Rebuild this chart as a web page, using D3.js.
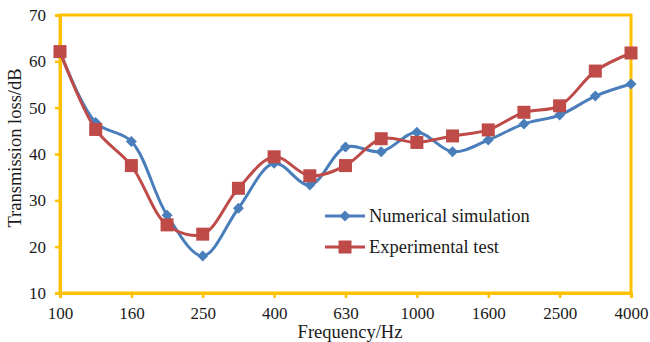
<!DOCTYPE html>
<html>
<head>
<meta charset="utf-8">
<script src="https://cdn.jsdelivr.net/npm/d3@7"></script>
<style>
  html, body { margin: 0; padding: 0; background: #fff; }
  svg { display: block; }
  text { font-family: "Liberation Serif", "Times New Roman", serif; fill: #1a1a1a; }
</style>
</head>
<body>
<svg id="chart" width="650" height="342"></svg>
<script>
// Third-octave band centre frequencies (Hz)
const frequencies = ["100", "125", "160", "200", "250", "315", "400", "500", "630",
                     "800", "1000", "1250", "1600", "2000", "2500", "3150", "4000"];
// Transmission loss (dB)
const numericalSimulation = [62.1, 46.8, 42.7, 26.8, 18.0, 28.3, 38.0, 33.3, 41.5,
                             40.5, 44.7, 40.5, 43.0, 46.5, 48.4, 52.5, 55.1];
const experimentalTest    = [62.1, 45.3, 37.5, 24.7, 22.7, 32.6, 39.4, 35.3, 37.5,
                             43.3, 42.5, 43.9, 45.2, 49.0, 50.4, 57.9, 61.8];
const yTicks = [10, 20, 30, 40, 50, 60, 70];
const xTickLabels = ["100", "160", "250", "400", "630", "1000", "1600", "2500", "4000"];

const series = [
  { name: "Numerical simulation", values: numericalSimulation, color: "#4a7ebb", marker: "diamond" },
  { name: "Experimental test",    values: experimentalTest,    color: "#be4b48", marker: "square" }
];

const svg = d3.select("#chart");
const plot = { left: 60, right: 631, top: 15, bottom: 293 };
const axisColor = "#ffc000";

const x = d3.scalePoint().domain(frequencies).range([plot.left, plot.right]);
const y = d3.scaleLinear().domain([10, 70]).range([plot.bottom, plot.top]);

// Plot-area frame
svg.append("rect")
  .attr("x", plot.left).attr("y", plot.top)
  .attr("width", plot.right - plot.left).attr("height", plot.bottom - plot.top)
  .attr("fill", "none").attr("stroke", axisColor).attr("stroke-width", 3);

// Y axis
const yAxis = svg.append("g")
  .attr("transform", `translate(${plot.left},0)`)
  .call(d3.axisLeft(y).tickValues(yTicks).tickSize(5).tickPadding(9));
yAxis.select(".domain").attr("stroke", axisColor).attr("stroke-width", 3);
yAxis.selectAll(".tick line").attr("stroke", axisColor).attr("stroke-width", 2.5);
yAxis.selectAll(".tick text").style("font-size", "17px").attr("fill", "#1a1a1a");

// X axis
const xAxis = svg.append("g")
  .attr("transform", `translate(0,${plot.bottom})`)
  .call(d3.axisBottom(x).tickValues(xTickLabels).tickSize(5).tickPadding(9));
xAxis.select(".domain").attr("stroke", axisColor).attr("stroke-width", 3);
xAxis.selectAll(".tick line").attr("stroke", axisColor).attr("stroke-width", 2.5);
xAxis.selectAll(".tick text").style("font-size", "17px").attr("fill", "#1a1a1a");

// Axis titles
svg.append("text")
  .attr("x", 350).attr("y", 338)
  .attr("text-anchor", "middle")
  .style("font-size", "18.5px")
  .text("Frequency/Hz");

svg.append("text")
  .attr("transform", `translate(21,148) rotate(-90)`)
  .attr("text-anchor", "middle")
  .style("font-size", "18.5px")
  .text("Transmission loss/dB");

// Smoothed series lines
const line = d3.line()
  .x((d, i) => x(frequencies[i]))
  .y(d => y(d))
  .curve(d3.curveCatmullRom.alpha(0.5));

const diamond = s => `M0,${-s}L${s},0L0,${s}L${-s},0Z`;

function drawMarker(g, type, color) {
  if (type === "diamond") {
    g.append("path").attr("d", diamond(5.5)).attr("fill", color);
  } else {
    g.append("rect").attr("x", -6.5).attr("y", -6.5).attr("width", 13).attr("height", 13)
      .attr("fill", color);
  }
}

series.forEach(s => {
  svg.append("path")
    .datum(s.values)
    .attr("d", line)
    .attr("fill", "none")
    .attr("stroke", s.color)
    .attr("stroke-width", 3)
    .attr("stroke-linejoin", "round");

  s.values.forEach((v, i) => {
    const g = svg.append("g").attr("transform", `translate(${x(frequencies[i])},${y(v)})`);
    drawMarker(g, s.marker, s.color);
  });
});

// Legend
const legend = svg.append("g");
series.forEach((s, i) => {
  const ly = 216 + i * 31;
  legend.append("line")
    .attr("x1", 325).attr("x2", 365).attr("y1", ly).attr("y2", ly)
    .attr("stroke", s.color).attr("stroke-width", 3);
  const g = legend.append("g").attr("transform", `translate(345,${ly})`);
  drawMarker(g, s.marker, s.color);
  legend.append("text")
    .attr("x", 369).attr("y", ly + 6)
    .style("font-size", "18.5px")
    .text(s.name);
});
</script>
</body>
</html>
